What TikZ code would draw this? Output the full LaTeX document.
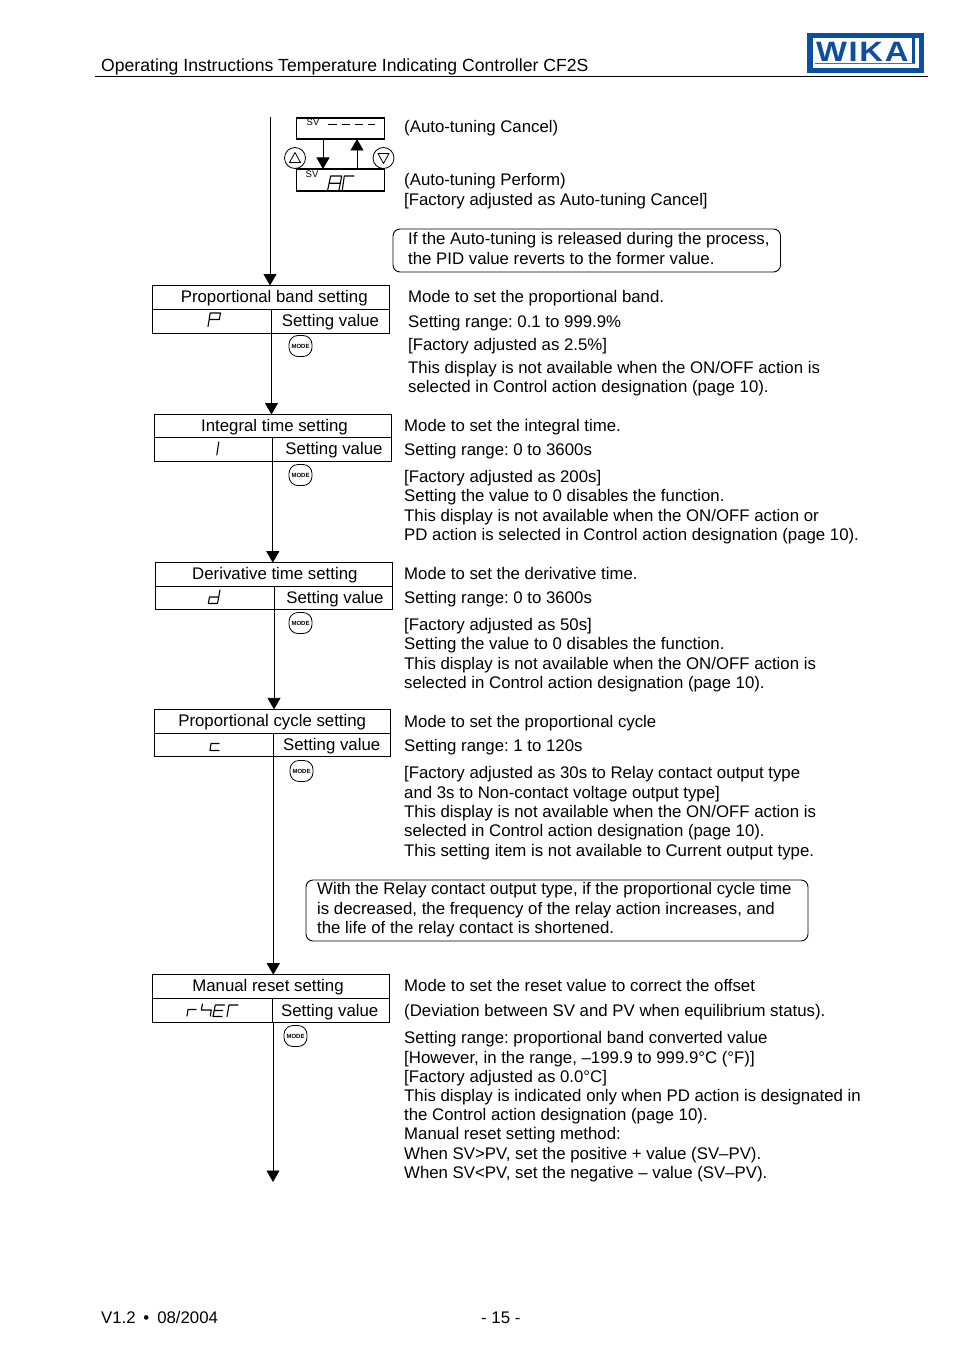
\documentclass[tikz,border=0pt]{standalone}
\usepackage{fontspec}
\usepackage{graphicx}
\setmainfont{Liberation Sans}
\newfontfamily\wikafont[LetterSpace=5]{Liberation Sans}
\usetikzlibrary{arrows.meta,positioning}
\definecolor{wikablue}{HTML}{0B4EA2}
\frenchspacing
\tikzset{
 lineT/.style={anchor=base west,inner sep=0pt,font=\fontsize{16.8}{19.5}\selectfont\frenchspacing},
 cell/.style={draw=black,line width=0.9pt,inner sep=0pt,outer sep=0pt,font=\fontsize{16.8}{19.5}\selectfont\frenchspacing,anchor=north west},
 flow/.style={draw=black,line width=0.9pt,-{Triangle[length=11.5pt,width=13pt]}},
 callout/.style={draw=black,line width=0.9pt,rounded corners=7pt,anchor=north west,inner sep=0pt,outer sep=0pt},
 seg/.style={draw=black,line width=1.1pt,line cap=round,line join=round},
 modebtn/.style={draw=black,line width=0.8pt,rounded corners=9pt,minimum width=23pt,minimum height=21pt,inner sep=0pt,font=\fontsize{6}{6}\selectfont\bfseries},
 svbox/.style={draw=black,line width=1.5pt,anchor=north west,inner sep=0pt,outer sep=0pt},
 svlab/.style={inner sep=0pt,font=\fontsize{9.5}{10}\selectfont},
 keycirc/.style={draw=black,line width=0.8pt,circle,minimum size=21pt,inner sep=0pt},
}
\newcommand{\tl}[4]{\node[lineT] (#1) at (#2,#3) {#4};}
\newcommand{\svoff}{0}
% name, x1,y1,xdiv,x2,ymid,y2,title-offset,title (\svoff: offset of "Setting value")
\newcommand{\setbx}[9]{%
 \node[cell,minimum width={(#5-#2)*1pt},minimum height={(#6-#3)*1pt}] (#1t) at (#2,#3) {\hspace*{#8pt}\raisebox{-0.8pt}[\height][\depth]{#9}};
 \node[cell,minimum width={(#4-#2)*1pt},minimum height={(#7-#6)*1pt}] (#1v) at (#2,#6) {};
 \node[cell,minimum width={(#5-#4)*1pt},minimum height={(#7-#6)*1pt}] (#1s) at (#4,#6) {\hspace*{\svoff pt}\raisebox{-1.3pt}[\height][\depth]{Setting value}};
}
\begin{document}
\begin{tikzpicture}[x=1pt,y=-1pt]
\useasboundingbox (0,0) rectangle (954,1351);
% header
\node[lineT,font=\fontsize{17.6}{20}\selectfont\frenchspacing] (hd) at (101,71.7) {Operating Instructions Temperature Indicating Controller CF2S};
\coordinate (ruleL) at (95,76.5);
\coordinate (ruleR) at (928,76.5);
\draw[line width=0.9pt] (ruleL) -- (ruleR);
% logo
\fill[wikablue] (807,33) rectangle (924,73.5);
\fill[white] (812.5,38) rectangle (918.5,68.5);
\fill[wikablue] (912,38) rectangle (915,64.5);
\fill[wikablue!80] (815,63.3) rectangle (915,64.5);
\node[inner sep=0pt,text=wikablue,anchor=base west,font=\fontsize{28}{30}\selectfont\wikafont\bfseries] (wika) at (816,61.7) {\scalebox{1.17}[1]{WIKA}};
% auto-tuning display
\coordinate (topS) at (270,117);
\coordinate (xd) at (323,0);
\coordinate (xu) at (357,0);
\node[svbox,minimum width=88pt,minimum height=21pt] (sv1) at (296.3,118) {};
\node[svbox,minimum width=88pt,minimum height=22pt] (sv2) at (296.3,169) {};
\node[svlab] (sv1l) at (313,122) {SV};
\node[svlab] (sv2l) at (312,174.5) {SV};
\foreach \a/\b in {328/336.5,342/350,355/362.5,368/375}
  \draw[seg,line width=1.8pt,line cap=butt] (\a,124.5) -- (\b,124.5);
\draw[seg] (327.7,190) -- (330.7,176) -- (341.7,176) -- (339,190) (329,183.3) -- (340,183.3);
\draw[seg] (342.3,190) -- (344.3,176) -- (354,176);
\node[keycirc] (kup) at (295,158) {};
\node[keycirc] (kdn) at (383.5,158) {};
\draw[line width=0.8pt,line join=round] (295,152.5) -- (289.5,162.5) -- (300.5,162.5) -- cycle;
\draw[line width=0.8pt,line join=round] (383.5,163.5) -- (378,153.5) -- (389,153.5) -- cycle;
\draw[flow] (sv1.south -| xd) -- (sv2.north -| xd);
\draw[flow] (sv2.north -| xu) -- (sv1.south -| xu);
% right text top
\tl{a1}{404}{132.7}{(Auto-tuning Cancel)}
\tl{a2}{404}{185.7}{(Auto-tuning Perform)}
\tl{a3}{404}{205}{[Factory adjusted as Auto-tuning Cancel]}
\node[callout,minimum width=387.5pt,minimum height=43pt] (c1) at (393,229) {};
\tl{c1a}{408}{244}{If the Auto-tuning is released during the process,}
\tl{c1b}{408}{264}{the PID value reverts to the former value.}
% setting boxes
\setbx{b1}{152.5}{285.5}{271.5}{389.5}{309}{333.3}{6.5}{Proportional band setting}
\renewcommand{\svoff}{4}
\setbx{b2}{154.5}{414.5}{272.8}{391}{437.5}{461}{3.5}{Integral time setting}
\setbx{b3}{155.7}{562.7}{274}{392}{586.5}{609.3}{2}{Derivative time setting}
\renewcommand{\svoff}{0}
\setbx{b4}{154.4}{709.3}{273.3}{390}{733.3}{756.5}{0}{Proportional cycle setting}
\renewcommand{\svoff}{-2}
\setbx{b5}{152.5}{974.7}{272}{389.5}{998.7}{1022.3}{-6}{Manual reset setting}
% connectors
\draw[flow] (topS) -- (topS |- b1t.north);
\draw[flow] (b1v.south east) -- (b1v.south east |- b2t.north);
\draw[flow] (b2v.south east) -- (b2v.south east |- b3t.north);
\draw[flow] (b3v.south east) -- (b3v.south east |- b4t.north);
\draw[flow] (b4v.south east) -- (b4v.south east |- b5t.north);
\coordinate (endA) at (273,1182);
\draw[flow] (b5v.south east -| endA) -- (endA);
% MODE buttons
\node[modebtn] (m1) at (300.5,346) {MODE};
\node[modebtn] (m2) at (300.5,475) {MODE};
\node[modebtn] (m3) at (300.5,623) {MODE};
\node[modebtn] (m4) at (301.5,771) {MODE};
\node[modebtn] (m5) at (295.5,1036) {MODE};
% segment glyphs
\draw[seg] (208,326.5) -- (210.2,313) -- (220.5,313) -- (219.3,319.5) -- (209.2,319.5);
\draw[seg] (218.8,442) -- (216.8,455);
\draw[seg] (220,590) -- (217.5,603.5) -- (208.3,603.5) -- (209.5,597) -- (218.7,597);
\draw[seg] (219,743.5) -- (211,743.5) -- (210,750.5) -- (219,750.5);
\draw[seg] (187,1016) -- (188,1009.5) -- (196,1009.5);
\draw[seg] (202.5,1004) -- (201.3,1010) -- (211.3,1010) -- (210.3,1016);
\draw[seg] (224.5,1005) -- (215.3,1005) -- (213,1016.5) -- (222,1016.5) (214.2,1010.5) -- (222.5,1010.5);
\draw[seg] (238,1005) -- (229,1005) -- (227,1016.5);
% text: band
\tl{p1}{408}{302}{Mode to set the proportional band.}
\tl{p2}{408}{327}{Setting range: 0.1 to 999.9\%}
\tl{p3}{408}{350}{[Factory adjusted as 2.5\%]}
\tl{p4}{408}{373}{This display is not available when the ON/OFF action is}
\tl{p5}{408}{392}{selected in Control action designation (page 10).}
% integral
\tl{i1}{404}{431}{Mode to set the integral time.}
\tl{i2}{404}{455}{Setting range: 0 to 3600s}
\tl{i3}{404}{482}{[Factory adjusted as 200s]}
\tl{i4}{404}{501.3}{Setting the value to 0 disables the function.}
\tl{i5}{404}{521}{This display is not available when the ON/OFF action or}
\tl{i6}{404}{540}{PD action is selected in Control action designation (page 10).}
% derivative
\tl{d1}{404}{579}{Mode to set the derivative time.}
\tl{d2}{404}{603}{Setting range: 0 to 3600s}
\tl{d3}{404}{630}{[Factory adjusted as 50s]}
\tl{d4}{404}{649.3}{Setting the value to 0 disables the function.}
\tl{d5}{404}{669}{This display is not available when the ON/OFF action is}
\tl{d6}{404}{688}{selected in Control action designation (page 10).}
% cycle
\tl{y1}{404}{727}{Mode to set the proportional cycle}
\tl{y2}{404}{751}{Setting range: 1 to 120s}
\tl{y3}{404}{778}{[Factory adjusted as 30s to Relay contact output type}
\tl{y4}{404}{798}{and 3s to Non-contact voltage output type]}
\tl{y5}{404}{817}{This display is not available when the ON/OFF action is}
\tl{y6}{404}{836}{selected in Control action designation (page 10).}
\tl{y7}{404}{856}{This setting item is not available to Current output type.}
\node[callout,minimum width=502pt,minimum height=61pt] (c2) at (306,880) {};
\tl{c2a}{317}{894}{With the Relay contact output type, if the proportional cycle time}
\tl{c2b}{317}{914}{is decreased, the frequency of the relay action increases, and}
\tl{c2c}{317}{933}{the life of the relay contact is shortened.}
% reset
\tl{r1}{404}{991}{Mode to set the reset value to correct the offset}
\tl{r2}{404}{1016}{(Deviation between SV and PV when equilibrium status).}
\tl{r3}{404}{1043}{Setting range: proportional band converted value}
\tl{r4}{404}{1063}{[However, in the range, –199.9 to 999.9°C (°F)]}
\tl{r5}{404}{1082}{[Factory adjusted as 0.0°C]}
\tl{r6}{404}{1101}{This display is indicated only when PD action is designated in}
\tl{r7}{404}{1120}{the Control action designation (page 10).}
\tl{r8}{404}{1139.7}{Manual reset setting method:}
\tl{r9}{404}{1159}{When SV>PV, set the positive + value (SV–PV).}
\tl{r10}{404}{1178}{When SV<PV, set the negative – value (SV–PV).}
% footer
\tl{f1}{101}{1323}{V1.2 \kern3pt•\kern8pt{}08/2004}
\tl{f2}{481}{1323}{- 15 -}
\end{tikzpicture}
\end{document}
